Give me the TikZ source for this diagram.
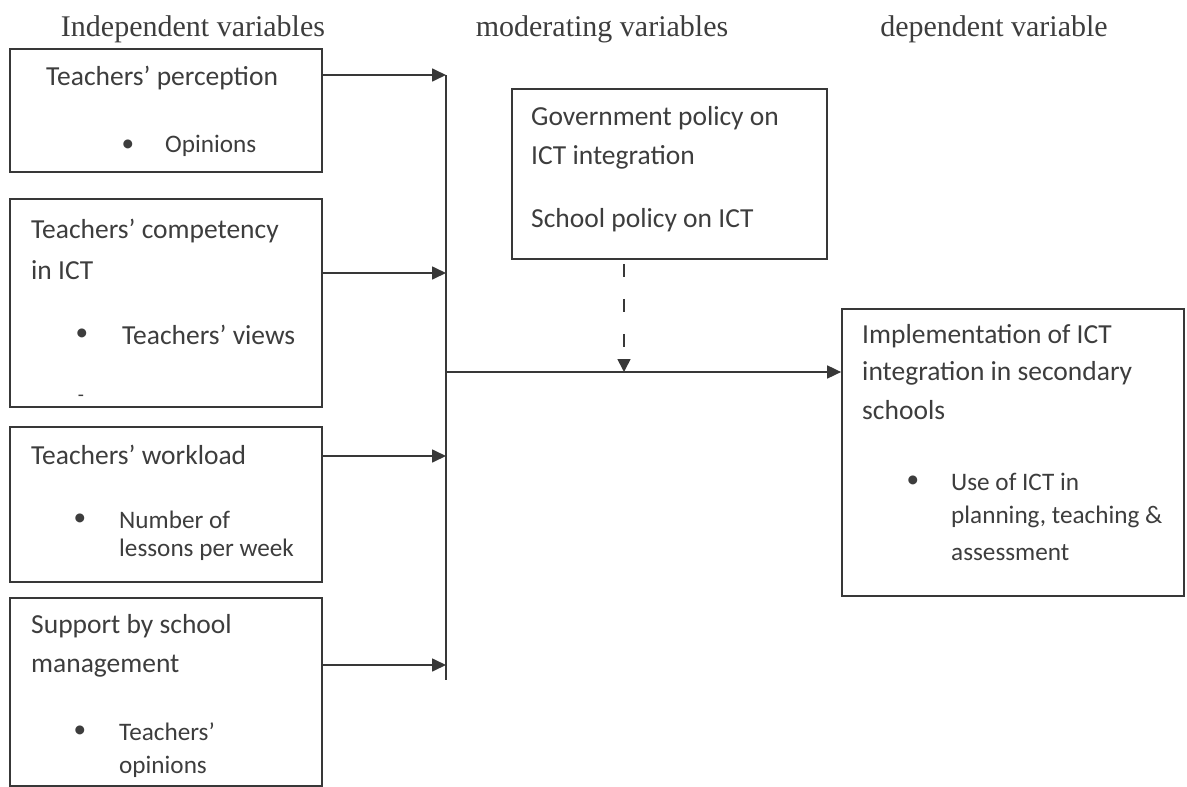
\documentclass[tikz,border=0pt]{standalone}
\usepackage{fontspec}
\setmainfont{Carlito}
\newfontfamily\titlefont{Liberation Serif}
\usetikzlibrary{arrows.meta}
\definecolor{ink}{gray}{0.22}
\definecolor{txtc}{gray}{0.24}
\tikzset{
  box/.style={draw=ink, line width=1.7pt, rectangle, inner sep=0pt, fill=none},
  txt/.style={anchor=west, inner sep=0pt, text=txtc, font=\fontsize{27.5}{33}\selectfont},
  stxt/.style={anchor=west, inner sep=0pt, text=txtc, font=\fontsize{25.2}{30}\selectfont},
  bul/.style={anchor=center, inner sep=0pt, text=txtc, font=\fontsize{25.2}{30}\selectfont},
  ttl/.style={anchor=base, inner sep=0pt, text=txtc, font=\titlefont\fontsize{30}{34}\selectfont},
  conn/.style={draw=ink, line width=1.7pt},
  arr/.style={conn, -{Triangle[length=14pt,width=13pt]}},
  dasharr/.style={conn, dash pattern=on 13pt off 22pt, dash phase=31pt, -{Triangle[length=13pt,width=13pt]}}
}
\begin{document}
\begin{tikzpicture}[x=1pt,y=-1pt]
\useasboundingbox (0,0) rectangle (1187,787);
% titles
\node[ttl] (tind) at (193,36) {Independent variables};
\node[ttl] (tmod) at (602,36) {moderating variables};
\node[ttl] (tdep) at (994,36) {dependent variable};
% left boxes
\node[box, minimum width=312pt, minimum height=123pt] (b1) at (166,110.5) {};
\node[box, minimum width=312pt, minimum height=208pt] (b2) at (166,303) {};
\node[box, minimum width=312pt, minimum height=155pt] (b3) at (166,504.5) {};
\node[box, minimum width=312pt, minimum height=188pt] (b4) at (166,692) {};
% box 1 text
\node[txt] (b1t) at (46,78) {Teachers’ perception};
\node[bul] (b1b) at (128,146) {•};
\node[stxt] (b1i) at (165,146) {Opinions};
% box 2 text
\node[txt] (b2t1) at (31,231) {Teachers’ competency};
\node[txt] (b2t2) at (31,270) {in ICT};
\node[bul] (b2b) at (82,335) {•};
\node[txt] (b2i) at (122,335) {Teachers’ views};
\node[bul, font=\fontsize{20}{22}\selectfont] (b2d) at (81,398) {-};
% box 3 text
\node[txt] (b3t) at (31,455) {Teachers’ workload};
\node[bul] (b3b) at (80,520) {•};
\node[stxt] (b3i1) at (119,520) {Number of};
\node[stxt] (b3i2) at (119,550) {lessons per week};
% box 4 text
\node[txt] (b4t1) at (31,626) {Support by school};
\node[txt] (b4t2) at (31,666) {management};
\node[bul] (b4b) at (80,732) {•};
\node[stxt] (b4i1) at (119,732) {Teachers’};
\node[stxt] (b4i2) at (119,767) {opinions};
% moderating box
\node[box, minimum width=315pt, minimum height=170pt] (mod) at (669.5,174) {};
\node[txt] (m1) at (531,118) {Government policy on};
\node[txt] (m2) at (531,157) {ICT integration};
\node[txt] (m3) at (531,220) {School policy on ICT};
% dependent box
\node[box, minimum width=342pt, minimum height=287pt] (dep) at (1013,452.5) {};
\node[txt] (d1) at (862,336) {Implementation of ICT};
\node[txt] (d2) at (862,373) {integration in secondary};
\node[txt] (d3) at (862,410) {schools};
\node[bul] (db) at (913,482) {•};
\node[stxt] (d4) at (951,482) {Use of ICT in};
\node[stxt] (d5) at (951,517) {planning, teaching \&};
\node[stxt] (d6) at (951,553) {assessment};
% junction coordinates on the collecting line
\coordinate (j1) at (446,75);
\coordinate (j2) at (446,273);
\coordinate (j3) at (446,456);
\coordinate (j4) at (446,665);
\coordinate (jend) at (446,680);
\coordinate (jm) at (446,372);
\coordinate (jd) at (624,372);
% connectors
\draw[conn] (j1) -- (jend);
\draw[arr] (b1.east |- j1) -- (j1);
\draw[arr] (b2.east |- j2) -- (j2);
\draw[arr] (b3.east |- j3) -- (j3);
\draw[arr] (b4.east |- j4) -- (j4);
\draw[arr] (jm) -- (dep.west |- jm);
\draw[dasharr] (mod.south -| jd) -- (jd);
\end{tikzpicture}
\end{document}
